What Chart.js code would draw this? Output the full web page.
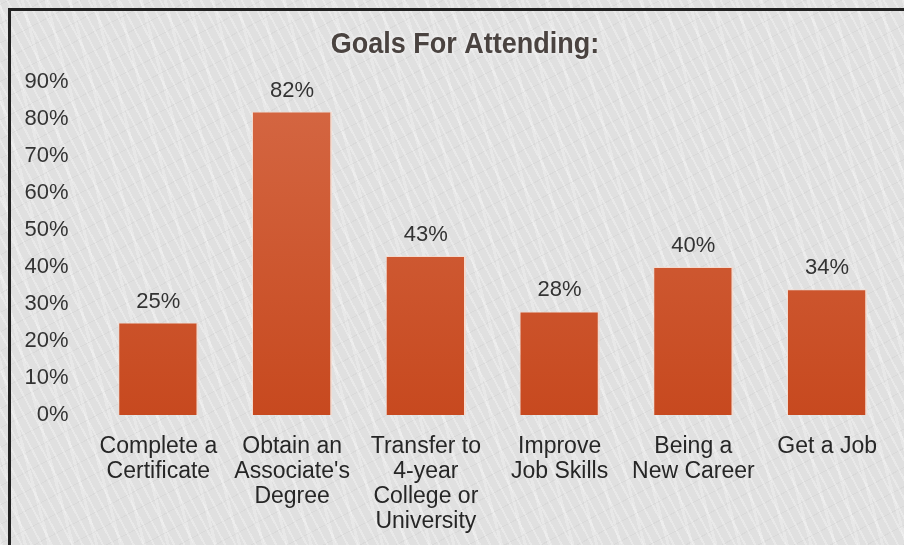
<!DOCTYPE html>
<html>
<head>
<meta charset="utf-8">
<script src="https://cdn.jsdelivr.net/npm/chart.js@4.4.1/dist/chart.umd.min.js"></script>
<style>
  html, body { margin: 0; padding: 0; }
  #wrap {
    width: 904px; height: 545px; position: relative;
    background-color: #e0e0e0;
    background-image:
      repeating-linear-gradient(62deg, rgba(255,255,255,0.28) 0 2px, transparent 2px 9px),
      repeating-linear-gradient(-28deg, rgba(0,0,0,0.03) 0 1px, transparent 1px 17px),
      repeating-linear-gradient(75deg, rgba(255,255,255,0.25) 0 3px, transparent 3px 23px);
  }
</style>
</head>
<body>
<div id="wrap"><canvas id="c" width="904" height="545"></canvas></div>
<script>
const titleText = "Goals For Attending:";
const categories = [
  ["Complete a", "Certificate"],
  ["Obtain an", "Associate's", "Degree"],
  ["Transfer to", "4-year", "College or", "University"],
  ["Improve", "Job Skills"],
  ["Being a", "New Career"],
  ["Get a Job"]
];
const values = [25, 82, 43, 28, 40, 34];
const yMin = 0, yMax = 90, yStep = 10;

const frameAndTitle = {
  id: 'frameAndTitle',
  beforeDraw(chart) {
    const ctx = chart.ctx;
    ctx.save();
    ctx.strokeStyle = '#222';
    ctx.lineWidth = 3;
    ctx.beginPath();
    ctx.moveTo(9.5, 545);
    ctx.lineTo(9.5, 9.5);
    ctx.lineTo(904, 9.5);
    ctx.stroke();
    // title
    ctx.translate(465, 45);
    ctx.scale(0.9, 1);
    ctx.font = 'bold 30px "Liberation Sans", Arial, sans-serif';
    ctx.textAlign = 'center';
    ctx.textBaseline = 'middle';
    ctx.shadowColor = 'rgba(255,255,255,0.9)';
    ctx.shadowBlur = 4;
    ctx.fillStyle = '#4a4340';
    ctx.fillText(titleText, 0, 0);
    ctx.restore();
  },
  afterDatasetsDraw(chart) {
    const ctx = chart.ctx;
    const meta = chart.getDatasetMeta(0);
    ctx.save();
    ctx.font = '22px "Liberation Sans", Arial, sans-serif';
    ctx.fillStyle = '#333';
    ctx.textAlign = 'center';
    ctx.textBaseline = 'alphabetic';
    meta.data.forEach((bar, i) => {
      ctx.fillText(values[i] + '%', bar.x, bar.y - 15);
    });
    ctx.restore();
  }
};

new Chart(document.getElementById('c'), {
  type: 'bar',
  data: {
    labels: categories,
    datasets: [{
      data: values,
      backgroundColor(context) {
        const ca = context.chart.chartArea;
        if (!ca) return '#cc5530';
        const g = context.chart.ctx.createLinearGradient(0, ca.top, 0, ca.bottom);
        g.addColorStop(0, '#d56844');
        g.addColorStop(1, '#c7491f');
        return g;
      },
      borderColor: 'rgba(250,215,200,0.7)',
      borderWidth: { left: 1, right: 2, top: 1, bottom: 0 },
      barPercentage: 0.6,
      categoryPercentage: 1.0
    }]
  },
  options: {
    responsive: false,
    animation: false,
    devicePixelRatio: 1,
    layout: { padding: { top: 82, right: 10, bottom: 0, left: 0 } },
    plugins: {
      legend: { display: false },
      title: { display: false },
      tooltip: { enabled: false }
    },
    scales: {
      x: {
        grid: { display: false, drawTicks: false },
        border: { display: false },
        ticks: {
          color: '#262626',
          font: { family: '"Liberation Sans", Arial, sans-serif', size: 23, lineHeight: 1.087 },
          padding: 19,
          maxRotation: 0,
          autoSkip: false
        },
        afterFit(scale) { scale.height = 130; }
      },
      y: {
        min: yMin, max: yMax,
        grid: { display: false, drawTicks: false },
        border: { display: false },
        ticks: {
          stepSize: yStep,
          color: '#333',
          font: { family: '"Liberation Sans", Arial, sans-serif', size: 22 },
          padding: 23,
          callback: v => v + '%'
        },
        afterFit(scale) { scale.width = 91.5; }
      }
    }
  },
  plugins: [frameAndTitle]
});
</script>
</body>
</html>
